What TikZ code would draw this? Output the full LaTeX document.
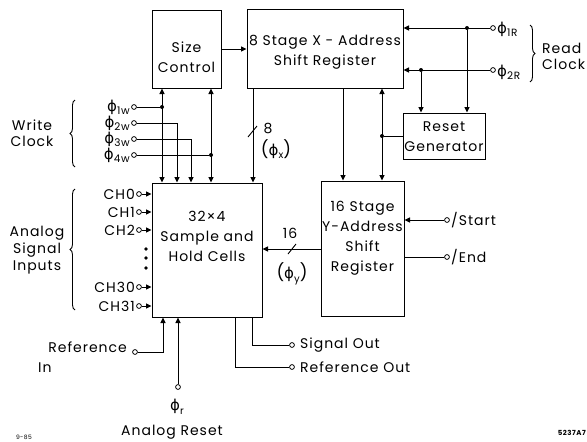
\documentclass[tikz,border=0pt]{standalone}
\usepackage{fontspec}
\setmainfont{Poppins}[LetterSpace=7]
\newfontfamily\grk{DejaVu Sans}
\usetikzlibrary{arrows.meta,decorations.pathreplacing,calc}
\newcommand{\phisub}[1]{{\grk\fontsize{15}{15}\selectfont ϕ}\raisebox{-3pt}{\fontsize{10.5}{10.5}\selectfont #1}}
\newcommand{\phiin}[1]{{\fontsize{17}{17}\selectfont(}{\grk\fontsize{15}{15}\selectfont ϕ}\raisebox{-3.5pt}{\fontsize{10}{10}\selectfont #1}{\fontsize{17}{17}\selectfont)}}
\begin{document}
\begin{tikzpicture}[x=1pt,y=-1pt,
  box/.style={draw,line width=1pt,inner sep=0pt},
  txt/.style={inner sep=0pt,align=center,font=\fontsize{14}{20}\selectfont},
  lab/.style={inner sep=0pt,font=\fontsize{14}{16}\selectfont},
  term/.style={circle,draw,line width=0.8pt,minimum size=4.8pt,inner sep=0pt,fill=white},
  jn/.style={circle,fill,minimum size=4pt,inner sep=0pt},
  wire/.style={line width=0.9pt},
  arr/.style={wire,-{Triangle[length=5.5pt,width=5pt]}},
  darr/.style={wire,{Triangle[length=5.5pt,width=5pt]}-{Triangle[length=5.5pt,width=5pt]}},
  brc/.style={wire,decorate,decoration={brace,amplitude=5pt}},
]
\useasboundingbox (0,0) rectangle (587,442);
% boxes
\node[box,minimum width=69pt,minimum height=78pt] (size) at (186.5,49) {};
\node[txt] (sizet) at (186.5,57) {Size\\Control};
\node[box,minimum width=156pt,minimum height=79pt] (xreg) at (325,48.5) {};
\node[txt] (xregt) at (325,52) {8 Stage X - Address\\Shift Register};
\node[box,minimum width=110pt,minimum height=134pt] (sh) at (207,250) {};
\node[txt] (sht) at (207,236) {32×4\\Sample and\\Hold Cells};
\node[box,minimum width=83pt,minimum height=135pt] (yreg) at (362.5,248.5) {};
\node[txt] (yregt) at (362.5,238) {16 Stage\\Y-Address\\Shift\\Register};
\node[box,minimum width=82pt,minimum height=46pt] (reset) at (444,136) {};
\node[txt] (resett) at (444,137) {Reset\\Generator};

% size -> xreg
\draw[arr] (size.east) -- (size.east -| xreg.west);

% read clocks
\node[term] (t1r) at (493,28) {};
\node[term] (t2r) at (493,70) {};
\node[lab,anchor=west] (l1r) at (497,29) {\phisub{1R}};
\node[lab,anchor=west] (l2r) at (497,72) {\phisub{2R}};
\draw[arr] (t1r) -- (t1r -| xreg.east);
\draw[arr] (t2r) -- (t2r -| xreg.east);
\node[jn] (d1r) at (467,28) {};
\node[jn] (d2r) at (421,70) {};
\draw[arr] (d1r) -- (d1r |- reset.north);
\draw[arr] (d2r) -- (d2r |- reset.north);
\draw[brc] (530,25) -- (530,82);
\node[lab,anchor=west] (readl) at (542,48) {Read};
\node[lab,anchor=west] (clockl) at (542,64) {Clock};

% xreg -> yreg
\coordinate (xy1) at (343,88);
\draw[arr] (xreg.south -| xy1) -- (yreg.north -| xy1);
\node[jn] (drs) at (382,136) {};
\draw[darr] (xreg.south -| drs) -- (yreg.north -| drs);
\draw[wire] (drs) -- (reset.west);

% phi x
\coordinate (px) at (253,88);
\draw[arr] (xreg.south -| px) -- (sh.north -| px);
\draw[wire] (248,137) -- (257,126);
\node[lab] (px8) at (268,129) {8};
\node[lab] (pxl) at (276,149) {\phiin{x}};

% phi y
\draw[arr] (yreg.west |- 0,249) -- (sh.east |- 0,249);
\draw[wire] (288,254) -- (296,244);
\node[lab] (py16) at (290,233) {16};
\node[lab] (pyl) at (292,274) {\phiin{y}};

% start / end
\node[term] (tst) at (447,220) {};
\node[term] (ten) at (447,257) {};
\draw[arr] (tst) -- (tst -| yreg.east);
\draw[wire] (yreg.east |- ten) -- (ten);
\node[lab,anchor=west] (lst) at (451,220) {/Start};
\node[lab,anchor=west] (len) at (451,257) {/End};

% write clocks
\node[term] (t1w) at (134,107) {};
\node[term] (t2w) at (134,123) {};
\node[term] (t3w) at (134,139) {};
\node[term] (t4w) at (134,155) {};
\node[lab,anchor=east] (l1w) at (130,107) {\phisub{1w}};
\node[lab,anchor=east] (l2w) at (130,123) {\phisub{2w}};
\node[lab,anchor=east] (l3w) at (130,139) {\phisub{3w}};
\node[lab,anchor=east] (l4w) at (130,155) {\phisub{4w}};
\node[jn] (d1w) at (162,107) {};
\node[jn] (d4w) at (211,155) {};
\coordinate (c2w) at (177,123);
\coordinate (c3w) at (191,139);
\draw[wire] (t1w) -- (d1w);
\draw[wire] (t4w) -- (d4w);
\draw[darr] (size.south -| d1w) -- (sh.north -| d1w);
\draw[darr] (size.south -| d4w) -- (sh.north -| d4w);
\draw[arr] (t2w) -- (c2w) -- (c2w |- sh.north);
\draw[arr] (t3w) -- (c3w) -- (c3w |- sh.north);
\draw[brc] (75,167) -- (75,100);
\node[lab] (writel) at (32,125) {Write};
\node[lab] (wclockl) at (32,141) {Clock};

% analog inputs
\foreach \n/\y in {0/194,1/212,2/230,30/287,31/306}{
  \node[term] (tch\n) at (139,\y) {};
  \node[lab,anchor=east] (lch\n) at (135,\y) {CH\n};
  \draw[arr] (tch\n) -- (tch\n -| sh.west);
}
\foreach \y [count=\i] in {249,258,268}{
  \node[jn,minimum size=3.6pt] (dot\i) at (146,\y) {};
}
\draw[brc] (75,310) -- (75,189);
\node[lab] (al1) at (37,233) {Analog};
\node[lab] (al2) at (37,250) {Signal};
\node[lab] (al3) at (37,267) {Inputs};

% reference in
\node[term] (tri) at (135,352) {};
\coordinate (cri) at (163,352);
\draw[arr] (tri) -- (cri) -- (cri |- sh.south);
\node[lab,anchor=east] (lri1) at (127,347) {Reference};
\node[lab,anchor=west] (lri2) at (38,368) {In};

% analog reset
\node[term] (tar) at (178,387) {};
\draw[arr] (tar) -- (tar |- sh.south);
\node[lab] (lar1) at (177,407) {{\grk\fontsize{15}{15}\selectfont ϕ}\raisebox{-3.5pt}{\fontsize{10}{10}\selectfont r}};
\node[lab] (lar2) at (172,432) {Analog Reset};

% outputs
\node[term] (tso) at (292,345) {};
\node[term] (tro) at (292,367) {};
\coordinate (cso) at (252,345);
\coordinate (cro) at (235,367);
\draw[wire] (sh.south -| cso) -- (cso) -- (tso);
\draw[wire] (sh.south -| cro) -- (cro) -- (tro);
\node[lab,anchor=west] (lso) at (300,345) {Signal Out};
\node[lab,anchor=west] (lro) at (300,367) {Reference Out};

% tags
\node[inner sep=0pt,font=\fontsize{6}{6}\selectfont] (tag1) at (24,437) {9-85};
\node[inner sep=0pt,anchor=east,font=\fontsize{7}{7}\selectfont\bfseries] (tag2) at (586,433) {5237A7};
\end{tikzpicture}
\end{document}
